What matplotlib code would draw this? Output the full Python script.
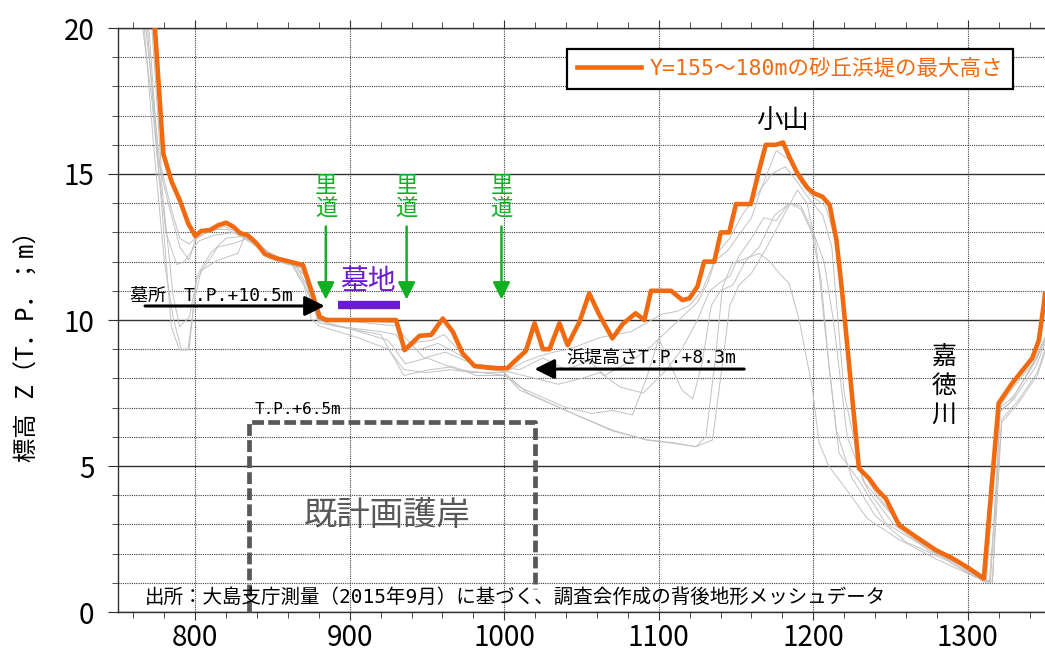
import numpy as np
import matplotlib
matplotlib.use("Agg")
import matplotlib.pyplot as plt
from matplotlib.ticker import MultipleLocator

plt.rcParams['font.family'] = ['Noto Sans CJK JP', 'DejaVu Sans']
MONO = ['DejaVu Sans Mono', 'Noto Sans CJK JP']

# max dune height profile (orange)
max_x = [773.9, 779.3, 784.7, 790, 795.5, 800, 804, 809.5, 815, 820, 824.5, 829, 834, 839.6, 845,
         852.6, 861, 869.8, 875, 880.6, 885, 930, 935.5, 945.2, 952.7, 960.2, 966.7, 973, 980.8,
         988.3, 995.8, 1002, 1007.6, 1014, 1019.6, 1025, 1029.3, 1035.7, 1041, 1048.7, 1055, 1061.6,
         1070, 1076.6, 1085, 1090.7, 1095, 1108, 1115.4, 1119.8, 1125, 1129.4, 1135.9, 1140.2,
         1145.6, 1150, 1159.6, 1165, 1169.3, 1175.8, 1180.5, 1184.4, 1189.8, 1196.2, 1200.5, 1206,
         1210.6, 1215, 1218.8, 1229.6, 1236, 1241.5, 1246.9, 1255.5, 1266.3, 1279.3, 1290, 1300.7,
         1310.4, 1320, 1328.7, 1341.7, 1346, 1349.3, 1350]
max_z = [20.0, 15.7, 14.74, 14.1, 13.3, 12.88, 13.05, 13.08, 13.25, 13.33, 13.2, 12.98, 12.9, 12.63,
         12.26, 12.11, 12.0, 11.88, 11.03, 10.1, 10.0, 10.0, 8.97, 9.46, 9.49, 10.05, 9.6, 8.86, 8.42,
         8.38, 8.35, 8.35, 8.63, 8.94, 9.89, 9.0, 9.0, 9.89, 9.14, 9.94, 10.91, 10.17, 9.37, 9.86,
         10.23, 10.0, 11.0, 11.0, 10.68, 10.74, 11.14, 12.0, 12.0, 13.0, 13.0, 13.97, 13.97, 15.14,
         16.0, 16.0, 16.08, 15.6, 15.02, 14.53, 14.34, 14.22, 13.94, 12.74, 10.91, 4.92, 4.58, 4.18,
         3.89, 2.98, 2.58, 2.12, 1.84, 1.50, 1.15, 7.15, 7.83, 8.69, 9.3, 10.57, 10.9]

# individual cross sections (gray)
sec_a_x = [772, 778, 784, 790, 796, 800, 806, 814, 821, 830, 840, 848, 860, 869, 876, 882, 900, 930,
           935, 944, 953, 961, 970, 980, 990, 1002, 1012, 1022, 1032, 1042, 1052, 1062, 1072, 1082,
           1092, 1102, 1112, 1120, 1128, 1136, 1145, 1153, 1160, 1167, 1176, 1184, 1192, 1200, 1208,
           1214, 1220, 1229, 1240, 1252, 1265, 1285, 1310, 1319, 1328, 1342, 1350]
sec_a_z = [20, 15.2, 13.9, 12.8, 12.6, 12.8, 12.95, 13.1, 13.1, 12.85, 12.5, 12.1, 11.9, 11.8, 10.7,
           9.95, 10.0, 9.9, 8.9, 9.25, 9.3, 9.5, 9.0, 8.4, 8.3, 8.25, 8.55, 8.75, 8.9, 9.0, 9.2, 9.4,
           9.5, 9.6, 9.9, 10.2, 10.3, 10.5, 11.0, 12.0, 12.4, 13.0, 13.5, 14.6, 15.8, 15.5, 14.7,
           14.2, 13.9, 12.8, 10.0, 5.1, 4.1, 3.3, 2.6, 2.0, 1.1, 6.9, 7.6, 8.5, 9.4]
sec_b_x = [770, 776, 782, 790, 796, 800, 806, 819, 832, 845, 862, 871, 875, 880, 890, 920, 930, 936,
           946, 957, 968, 980, 995, 1010, 1025, 1040, 1055, 1065, 1075, 1085, 1095, 1105, 1115, 1125,
           1132, 1138, 1146, 1154, 1165, 1173, 1182, 1190, 1198, 1206, 1212, 1220, 1232, 1248, 1268,
           1290, 1312, 1320, 1330, 1344, 1350]
sec_b_z = [20, 15.5, 14.1, 12.5, 12.05, 12.74, 12.97, 13.2, 12.9, 12.3, 12.0, 11.5, 10.6, 10.0, 9.8,
           9.6, 9.5, 9.0, 9.0, 9.2, 8.9, 8.5, 8.4, 8.3, 8.7, 8.3, 8.6, 8.1, 8.4, 8.7, 9.1, 9.6, 10.1,
           10.6, 11.3, 12.3, 12.8, 13.6, 14.4, 15.0, 15.25, 14.7, 14.1, 13.6, 12.5, 7.5, 4.5, 3.5,
           2.4, 1.8, 1.0, 6.8, 7.3, 8.4, 9.2]
sec_c_x = [768, 774, 779.5, 785.5, 789.8, 796.3, 800.6, 806, 814.6, 825.4, 836.2, 847, 862, 870, 876,
           880, 900, 920, 935, 952, 967, 982, 1001, 1010, 1027, 1040, 1057, 1070, 1083, 1092, 1100,
           1108, 1115, 1122, 1128, 1134, 1140, 1148, 1156, 1165, 1175, 1185, 1192, 1200, 1207, 1213,
           1222, 1235, 1252, 1275, 1300, 1314, 1322, 1332, 1345, 1350]
sec_c_z = [20, 17, 14.0, 10.9, 9.77, 10.11, 11.37, 11.83, 12.5, 12.63, 12.85, 12.17, 12.0, 11.3, 10.5,
           9.9, 9.7, 9.5, 8.1, 8.3, 8.4, 8.1, 8.1, 7.7, 7.3, 7.0, 6.8, 6.9, 6.75, 8.0, 9.37, 8.4, 7.6,
           7.3, 8.5, 10.5, 11.0, 11.2, 12.0, 12.5, 13.6, 14.0, 13.9, 13.0, 12.0, 10.0, 6.0, 4.2, 3.0,
           2.1, 1.5, 1.0, 6.6, 7.2, 8.2, 9.0]
sec_d_x = [766, 772, 778, 784.5, 789.8, 795.2, 799.5, 803.8, 814.6, 827.6, 831.9, 844.8, 862, 870.7,
           875, 880, 905, 925, 935, 950, 965, 980, 1000, 1015, 1040, 1070, 1092, 1109, 1124, 1134.8,
           1140, 1146, 1152, 1160, 1170, 1180, 1189.8, 1196, 1202, 1208, 1215, 1225, 1240, 1260, 1285,
           1310, 1316, 1322, 1332, 1345, 1350]
sec_d_z = [20, 17.5, 14.1, 9.77, 8.97, 8.97, 10.68, 11.7, 12.05, 12.28, 12.85, 12.4, 11.94, 11.14,
           10.05, 9.8, 9.4, 9.0, 8.3, 8.2, 8.3, 8.2, 8.2, 7.5, 6.9, 6.23, 5.89, 5.78, 5.66, 5.89, 8.0,
           10.5, 11.2, 11.6, 12.5, 13.5, 14.45, 14.0, 12.5, 9.5, 6.2, 4.6, 3.3, 2.4, 1.8, 1.05, 1.1,
           6.5, 7.1, 8.1, 8.9]
sec_e_x = [767, 773, 780, 786, 791, 796, 801, 810, 820, 835, 850, 865, 874, 879, 900, 925, 936, 950,
           970, 1001, 1010, 1040, 1070, 1092, 1109, 1124, 1130.5, 1137, 1141.3, 1147.7, 1156, 1165,
           1172, 1178, 1184.4, 1190.9, 1199.3, 1203.8, 1210, 1220, 1235, 1255, 1280, 1305, 1314.7,
           1321, 1327, 1344, 1350]
sec_e_z = [20, 16, 12.0, 10.0, 9.0, 9.0, 11.5, 12.3, 12.8, 12.9, 12.2, 11.9, 11.0, 10.0, 9.7, 9.3,
           8.5, 8.7, 8.3, 8.1, 7.6, 6.9, 6.2, 5.9, 5.8, 5.66, 6.0, 8.86, 11.14, 11.94, 12.1, 12.28,
           12.0, 11.6, 11.25, 10.0, 7.7, 5.8, 5.0, 4.3, 3.2, 2.5, 1.8, 1.2, 1.04, 6.9, 7.15, 8.6, 9.3]
sec_f_x = [769, 775, 781, 788, 793, 798, 802, 812, 825, 840, 855, 868, 875, 881, 910, 930, 936, 948,
           962, 975, 990, 1005, 1020, 1035, 1050, 1062, 1075, 1090, 1105, 1115, 1125, 1133, 1140, 1146,
           1152, 1160, 1168, 1176, 1184.4, 1192, 1199, 1205, 1210, 1216.7, 1229.6, 1246.9, 1268.4,
           1290, 1309.4, 1316, 1321, 1330, 1343.8, 1350]
sec_f_z = [20, 15.8, 13.0, 11.9, 12.0, 12.4, 12.7, 12.9, 13.0, 12.6, 12.0, 11.8, 11.0, 10.1, 9.9, 9.8,
           9.4, 8.7, 8.9, 8.6, 8.3, 8.2, 8.0, 7.8, 8.0, 8.2, 7.7, 7.5, 8.3, 9.0, 10.0, 11.0, 11.3, 11.5,
           12.2, 12.8, 13.5, 13.4, 14.0, 13.8, 13.0, 11.4, 8.5, 5.44, 4.5, 3.04, 2.35, 1.7, 1.1, 1.0,
           7.0, 7.4, 8.63, 9.3]

sections = [(sec_a_x, sec_a_z), (sec_b_x, sec_b_z), (sec_c_x, sec_c_z),
            (sec_d_x, sec_d_z), (sec_e_x, sec_e_z), (sec_f_x, sec_f_z)]

road_x = [884.5, 936.8, 998.2]
revetment_x = [834.7, 1019.6]
revetment_top = 6.5
grave_bar_x = [892.2, 932.3]

orange = '#f26a10'
green = '#10b020'
purple = '#6a1bd0'
darkgray = '#585858'

fig = plt.figure(figsize=(10.45, 6.57), dpi=100)
ax = fig.add_axes([118 / 1045, 45 / 657, 1 - 118 / 1045, 584 / 657])

for sx, sz in sections:
    ax.plot(sx, sz, color='#c2c2c2', lw=0.7, zorder=2)

line, = ax.plot(max_x, max_z, color=orange, lw=3.3, zorder=4)

ax.set_xlim(750, 1350)
ax.set_ylim(0, 20)
ax.xaxis.set_major_locator(MultipleLocator(100))
ax.xaxis.set_minor_locator(MultipleLocator(20))
ax.yaxis.set_major_locator(MultipleLocator(5))
ax.yaxis.set_minor_locator(MultipleLocator(1))

ax.grid(which='major', axis='x', color='#404040', ls=(0, (1, 1)), lw=0.8)
ax.grid(which='major', axis='y', color='#303030', ls='-', lw=1.0)
ax.grid(which='minor', axis='y', color='#404040', ls=(0, (1, 1)), lw=0.8)

for s in ['left', 'bottom', 'top']:
    ax.spines[s].set_color('#303030')
    ax.spines[s].set_linewidth(1.0)
ax.spines['right'].set_visible(False)

ax.tick_params(axis='x', which='both', top=True, direction='out', color='#303030')
ax.tick_params(axis='x', which='major', length=6, labelsize=20, pad=2)
ax.tick_params(axis='x', which='minor', length=4)
ax.tick_params(axis='y', which='major', length=7, labelsize=20, pad=10, color='#303030')
ax.tick_params(axis='y', which='minor', length=4, color='#303030')

ax.set_ylabel('標高 Z（T．P．；m）', fontsize=17.5, family=MONO)
ax.yaxis.set_label_coords(-0.085, 0.465)

leg = ax.legend([line], ['Y=155～180mの砂丘浜堤の最大高さ'], loc='upper right',
                bbox_to_anchor=(0.977, 0.983), prop={'family': MONO, 'size': 15.5},
                labelcolor=orange, fancybox=False, edgecolor='black', framealpha=1,
                handlelength=3.0, borderpad=0.45, handletextpad=0.4)
leg.get_frame().set_linewidth(1.6)
leg.set_zorder(6)

# roads
for rx in road_x:
    ax.text(rx, 14.2, '里\n道', color=green, fontsize=16, ha='center', va='center',
            linespacing=1.0, zorder=5)
    ax.annotate('', xy=(rx, 10.7), xytext=(rx, 13.2),
                arrowprops=dict(arrowstyle='-|>', color=green, lw=1.8, mutation_scale=26,
                                shrinkA=0, shrinkB=0), zorder=5)

# graveyard
ax.text(911.6, 11.35, '墓地', color=purple, fontsize=20, ha='center', va='center', zorder=5)
ax.plot(grave_bar_x, [10.51, 10.51], color=purple, lw=6, solid_capstyle='butt', zorder=5)

ax.text(757.5, 10.82, '墓所　T.P.+10.5m', fontsize=13, family=MONO, ha='left', va='center',
        zorder=5)
ax.annotate('', xy=(883.8, 10.48), xytext=(767.5, 10.48),
            arrowprops=dict(arrowstyle='-|>', color='black', lw=2.2, mutation_scale=30,
                            shrinkA=0, shrinkB=0), zorder=5)

ax.text(1040.2, 8.72, '浜堤高さT.P.+8.3m', fontsize=13, family=MONO, ha='left', va='center',
        zorder=5)
ax.annotate('', xy=(1019.6, 8.32), xytext=(1155.3, 8.32),
            arrowprops=dict(arrowstyle='-|>', color='black', lw=2.2, mutation_scale=30,
                            shrinkA=0, shrinkB=0), zorder=5)

# planned revetment
ax.plot([revetment_x[0], revetment_x[0], revetment_x[1], revetment_x[1]],
        [0, revetment_top, revetment_top, 0.8], color=darkgray, lw=3.4,
        ls=(0, (2.5, 0.9)), zorder=3, clip_on=False)
ax.text(838.6, 6.92, 'T.P.+6.5m', fontsize=11.5, family=MONO, ha='left', va='center', zorder=5)
ax.text(923.9, 3.32, '既計画護岸', fontsize=24, color=darkgray, ha='center', va='center', zorder=5)

ax.text(1180, 16.85, '小山', fontsize=19, ha='center', va='center', zorder=5)
ax.text(1284.6, 7.75, '嘉\n徳\n川', fontsize=18, ha='center', va='center', linespacing=1.15,
        zorder=5)

ax.text(767.5, 0.5, '出所：大島支庁測量（2015年9月）に基づく、調査会作成の背後地形メッシュデータ',
        fontsize=14, family=MONO, ha='left', va='center', zorder=5)

fig.savefig('out.png', dpi=100)
